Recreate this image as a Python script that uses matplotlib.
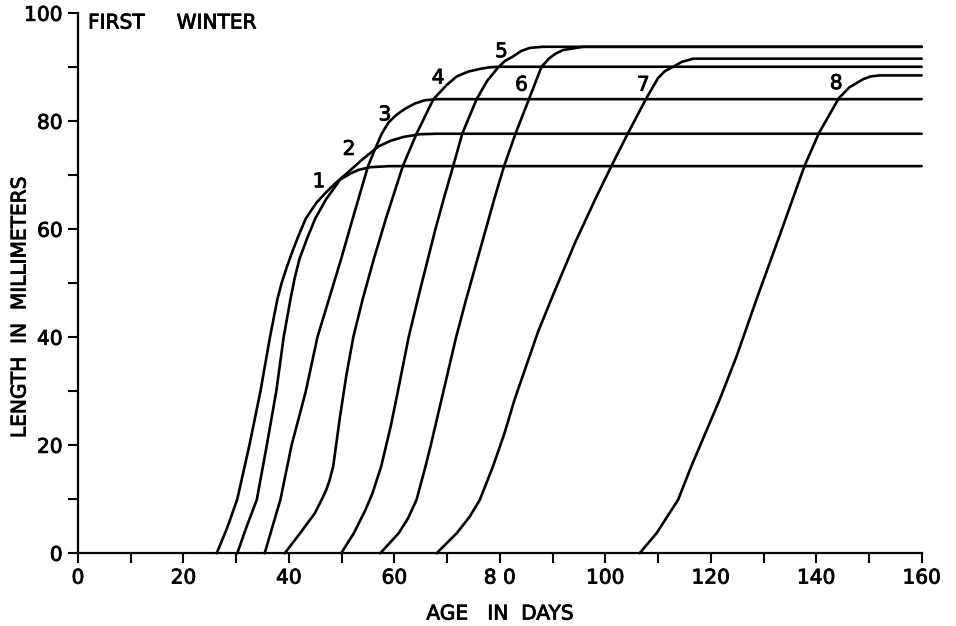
import matplotlib
matplotlib.use('Agg')
from matplotlib import pyplot as plt
from matplotlib import patheffects as pe

plt.rcParams['font.family'] = ['DejaVu Sans']

# growth curves: age in days, length in mm
days1 = [30.2, 32.0, 33.9, 35.8, 37.6, 39.0, 40.3, 41.1, 42.0, 43.4, 45.0, 47.0, 48.7, 49.7, 51.6,
         53.2, 55.4, 59.1, 160]
len1 = [0, 5.0, 9.9, 20.0, 30.0, 40.0, 47.1, 51.0, 54.5, 58.2, 62.0, 65.5, 67.8, 69.2, 70.3,
        71.0, 71.5, 71.7, 71.7]

days2 = [26.3, 28.4, 30.2, 32.5, 34.6, 36.4, 37.8, 38.6, 39.6, 40.7, 41.9, 43.2, 45.2, 47.1, 49.0,
         50.9, 53.9, 56.9, 59.3, 61.7, 64.8, 68.0, 160]
len2 = [0, 5.0, 10.0, 20.0, 30.0, 40.0, 47.0, 50.0, 53.0, 56.0, 59.0, 62.0, 64.9, 66.9, 68.7,
        70.3, 72.9, 75.3, 76.4, 77.1, 77.6, 77.7, 77.7]

days3 = [35.4, 36.9, 38.4, 40.5, 43.2, 45.4, 47.6, 49.9, 52.1, 55.0, 56.4, 57.6, 58.9, 60.4, 62.0,
         63.9, 65.8, 68.0, 160]
len3 = [0, 5.0, 10.0, 20.0, 30.0, 40.0, 47.1, 54.5, 62.0, 71.7, 75.0, 77.7, 79.8, 81.2, 82.3,
        83.3, 83.9, 84.1, 84.1]

days4 = [39.2, 42.1, 44.9, 46.2, 47.1, 47.7, 48.4, 49.7, 50.9, 52.2, 54.0, 56.1, 58.4, 61.6, 64.2,
         67.4, 69.9, 71.8, 74.0, 76.2, 78.0, 80.0, 160]
len4 = [0, 3.7, 7.4, 9.9, 11.8, 13.5, 16.1, 25.4, 33.0, 40.0, 47.1, 54.5, 62.0, 71.7, 77.7,
        84.1, 86.7, 88.3, 89.2, 89.7, 90.0, 90.1, 90.1]

days5 = [49.9, 52.3, 54.5, 55.8, 57.5, 59.3, 60.6, 62.7, 64.6, 67.8, 69.4, 71.0, 72.9, 75.6, 77.6,
         79.7, 81.0, 82.5, 84.0, 85.7, 88.2, 160]
len5 = [0, 3.7, 8.0, 11.0, 16.1, 23.5, 29.7, 40.0, 47.7, 60.1, 65.8, 71.2, 77.8, 84.1, 87.5,
        90.0, 91.2, 92.0, 93.0, 93.6, 93.8, 93.8]

days6 = [57.3, 60.8, 62.6, 64.2, 65.9, 66.9, 69.3, 71.7, 73.6, 76.3, 79.0, 80.8, 83.0, 85.6, 87.9,
         89.4, 90.7, 92.0, 95.8, 160]
len6 = [0, 3.7, 6.5, 9.9, 16.1, 20.0, 30.0, 40.0, 47.0, 56.4, 65.8, 71.7, 77.8, 84.3, 90.1,
        91.7, 92.6, 93.2, 93.8, 93.8]

days7 = [68.0, 71.8, 74.3, 76.2, 78.7, 80.9, 82.8, 85.0, 87.2, 89.9, 94.3, 98.2, 101.2, 104.3,
         107.8, 110.0, 111.3, 112.9, 114.5, 116.7, 160]
len7 = [0, 3.7, 6.8, 9.9, 16.1, 22.3, 28.5, 34.7, 40.9, 47.4, 57.6, 65.8, 71.8, 77.8,
        84.3, 88.0, 89.3, 90.1, 91.0, 91.6, 91.6]

days8 = [106.5, 109.7, 113.8, 116.3, 119.0, 121.7, 124.9, 128.7, 133.3, 137.8, 140.5, 144.3, 146.3,
         148.9, 150.3, 152.0, 160]
len8 = [0, 3.7, 9.9, 16.1, 22.3, 28.5, 36.5, 47.1, 59.5, 71.8, 77.8, 84.3, 86.3,
        87.8, 88.3, 88.5, 88.5]

curve_labels = ['1', '2', '3', '4', '5', '6', '7', '8']
label_x = [45.7, 51.4, 58.2, 68.3, 80.3, 84.1, 107.2, 143.8]
label_y = [68.8, 74.8, 81.2, 88.0, 92.9, 86.7, 86.7, 87.0]

x_ticks = [0, 20, 40, 60, 80, 100, 120, 140, 160]
x_ticklabels = ['0', '20', '40', '60', '8 0', '100', '120', '140', '160']
y_ticks = [0, 20, 40, 60, 80, 100]


def graphing():
    fig = plt.figure(figsize=(9.56, 6.26), dpi=100)
    ax = fig.add_axes([78 / 956, 1 - 553.3 / 626, (921.7 - 78) / 956, (553.3 - 13.3) / 626])

    thick = [pe.withStroke(linewidth=0.6, foreground='black')]
    fs = 14.5

    curves = [(days1, len1), (days2, len2), (days3, len3), (days4, len4),
              (days5, len5), (days6, len6), (days7, len7), (days8, len8)]
    for d, l in curves:
        ax.plot(d, l, c='black', lw=1.9, solid_joinstyle='round',
                solid_capstyle='round', clip_on=False)

    for t, x, y in zip(curve_labels, label_x, label_y):
        ax.text(x, y, t, ha='center', va='center', fontsize=fs, path_effects=thick)

    ax.text(1.9, 98.2, 'FIRST     WINTER', ha='left', va='center',
            fontsize=fs, path_effects=thick)

    ax.set_xlim(0, 160)
    ax.set_ylim(0, 100)
    ax.set_xticks(x_ticks)
    ax.set_xticklabels(x_ticklabels)
    ax.set_xticks(range(10, 160, 20), minor=True)
    ax.set_yticks(y_ticks)
    ax.set_yticks(range(10, 100, 20), minor=True)
    ax.tick_params(which='both', direction='out', length=7, width=1.5,
                   labelsize=fs, pad=4)
    for lbl in ax.get_xticklabels() + ax.get_yticklabels():
        lbl.set_path_effects(thick)

    for side in ['top', 'right']:
        ax.spines[side].set_visible(False)
    for side in ['left', 'bottom']:
        ax.spines[side].set_linewidth(1.6)

    fig.text(500 / 956, 1 - 614 / 626, 'AGE   IN  DAYS', ha='center', va='center',
             fontsize=fs, path_effects=thick)
    fig.text(20 / 956, 1 - 307 / 626, 'LENGTH  IN  MILLIMETERS', ha='center',
             va='center', rotation=90, fontsize=fs, path_effects=thick)

    fig.savefig('out.png', dpi=100)


if __name__ == "__main__":
    graphing()
